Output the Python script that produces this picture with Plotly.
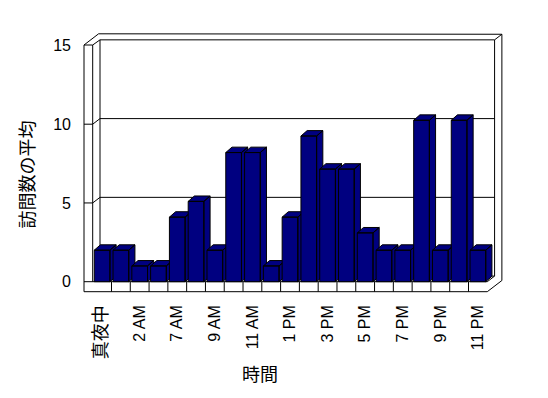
import plotly.graph_objects as go

# ---------------- data ----------------
hours = ["真夜中", "1 AM", "2 AM", "6 AM", "7 AM", "8 AM", "9 AM", "10 AM", "11 AM",
         "12 PM", "1 PM", "2 PM", "3 PM", "4 PM", "5 PM", "6 PM", "7 PM", "8 PM",
         "9 PM", "10 PM", "11 PM"]
avg_visits = [2, 2, 1, 1, 4.1, 5.1, 2, 8.2, 8.2, 1, 4.1, 9.25, 7.15, 7.15, 3.1,
              2, 2, 10.25, 2, 10.25, 2]
y_ticks = [0, 5, 10, 15]
x_title = "時間"
y_title = "訪問数の平均"

# ---------------- geometry (pixels) ----------------
W, H = 548, 398
X0 = 92.7        # px of left edge of first category (front plane)
CAT = 18.79      # px per category
Y0 = 281.7       # px of value 0 (front plane)
VAL = 15.75      # px per value unit
L, R, T, B = 82, 504, 32, 294   # plot area in px
DXP, DYP = 7.3, -5.6            # depth offset in px
BDXP, BDYP = 6.2, -5.4          # bar depth in px
BW = 0.835                      # bar width (category units)


def xd(px):
    return (px - X0) / CAT - 0.5


def yd(py):
    return (Y0 - py) / VAL


def px_paper(px):
    return (px - L) / (R - L)


def py_paper(py):
    return (B - py) / (B - T)


ddx = DXP / CAT
ddy = -DYP / VAL
bdx = BDXP / CAT
bdy = -BDYP / VAL

n = len(hours)
front_l = -0.5
front_r = n - 0.5
wall_l_px = 84.0
floor_bot = yd(291.7)
top_v = max(y_ticks)
left_top = yd(45.0)
left_wall_x = xd(wall_l_px)

line = dict(color="black", width=1)
shapes = []


def path(points, close=True, fill=None):
    d = "M " + " L ".join(f"{x},{y}" for x, y in points)
    if close:
        d += " Z"
    s = dict(type="path", path=d, xref="x", yref="y", line=line, layer="below")
    if fill:
        s["fillcolor"] = fill
    shapes.append(s)


# outer outline of the whole wall/floor structure
path([
    (left_wall_x, left_top),
    (left_wall_x + 2 * ddx, left_top + 2 * ddy),
    (front_r + 2 * ddx, top_v + 2 * ddy),
    (front_r + 2 * ddx, floor_bot + 2 * ddy),
    (front_r, floor_bot),
    (left_wall_x, floor_bot),
], fill="white")

# back wall front face
path([
    (front_l + ddx, ddy), (front_r + ddx, ddy),
    (front_r + ddx, top_v + ddy), (front_l + ddx, top_v + ddy)
], fill="white")
# back wall top-right corner edge
path([(front_r + ddx, top_v + ddy), (front_r + 2 * ddx, top_v + 2 * ddy)], close=False)
# floor right edges
path([(front_r + ddx, ddy), (front_r, 0)], close=False)
# left wall front face / top
path([(left_wall_x, left_top), (front_l, left_top), (front_l + ddx, top_v + ddy)], close=False)
path([(front_l, left_top), (front_l, 0)], close=False)
# floor front face top edge
path([(left_wall_x, 0), (front_r, 0)], close=False)
# floor dividers
for k in range(n - 1):
    path([(k + 0.5, 0), (k + 0.5, floor_bot)], close=False)
# gridlines on back wall + ticks on left wall
for v in y_ticks[1:-1]:
    path([(left_wall_x, v), (front_l, v), (front_l + ddx, v + ddy), (front_r + ddx, v + ddy)],
         close=False)

fig = go.Figure()

# bars as 3-D boxes (side, top, front), drawn left to right
for i, v in enumerate(avg_visits):
    xl, xr = i - BW / 2, i + BW / 2
    xs, ys = [], []
    faces = [
        [(xr, 0), (xr + bdx, bdy), (xr + bdx, v + bdy), (xr, v)],
        [(xl, v), (xr, v), (xr + bdx, v + bdy), (xl + bdx, v + bdy)],
        [(xl, 0), (xr, 0), (xr, v), (xl, v)],
    ]
    for f in faces:
        for (px_, py_) in f + [f[0]]:
            xs.append(px_)
            ys.append(py_)
        xs.append(None)
        ys.append(None)
    fig.add_trace(go.Scatter(
        x=xs, y=ys, mode="lines", fill="toself", fillcolor="#000080",
        line=dict(color="black", width=1), hoverinfo="skip", showlegend=False,
    ))

font_family = "Liberation Sans, Arial, Noto Sans CJK JP, sans-serif"

tick_text = []
for lab in hours[::2]:
    if any(ord(ch) > 255 for ch in lab):
        tick_text.append(f'<span style="font-size:18px">{lab}</span>')
    else:
        tick_text.append(lab)

fig.update_layout(
    width=W, height=H,
    margin=dict(l=L, r=W - R, t=T, b=H - B, pad=0),
    paper_bgcolor="white", plot_bgcolor="white",
    shapes=shapes,
    font=dict(family=font_family, size=16, color="black"),
    xaxis=dict(
        range=[xd(L), xd(R)], showgrid=False, zeroline=False, showline=False,
        tickmode="array", tickvals=list(range(0, n, 2)), ticktext=tick_text,
        tickangle=-90, ticks="", ticklabelstandoff=7, automargin=False,
    ),
    yaxis=dict(
        range=[yd(B), yd(T)], showgrid=False, zeroline=False, showline=False,
        tickmode="array", tickvals=y_ticks, ticktext=[str(t) for t in y_ticks],
        ticks="", ticklabelstandoff=10, automargin=False,
    ),
    annotations=[
        dict(text=x_title, xref="paper", yref="paper", x=px_paper(260), y=py_paper(375),
             showarrow=False, font=dict(size=18), xanchor="center", yanchor="middle"),
        dict(text=y_title, xref="paper", yref="paper", x=px_paper(27.5), y=py_paper(175),
             showarrow=False, font=dict(size=18), textangle=-90,
             xanchor="center", yanchor="middle"),
    ],
)

fig.write_html(
    "out.html",
    config={"displayModeBar": False, "staticPlot": True},
    post_script="document.body.style.margin='0';document.body.style.overflow='hidden';",
)
